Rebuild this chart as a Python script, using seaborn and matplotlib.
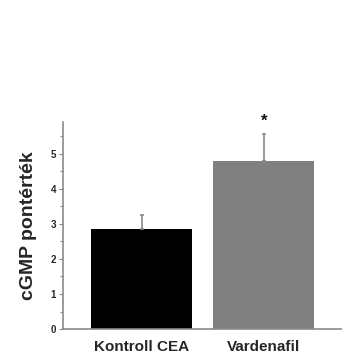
import numpy as np
import pandas as pd
import matplotlib
matplotlib.use("Agg")
import matplotlib.pyplot as plt
from matplotlib.ticker import MultipleLocator
import seaborn as sns

groups = ["Kontroll CEA", "Vardenafil"]
values = [2.84, 4.78]
errors = [0.42, 0.78]
bar_colors = ["#000000", "#808080"]
sig_marks = ["", "*"]

sns.set_theme(style="white")
plt.rcParams['font.family'] = ['Liberation Sans', 'DejaVu Sans']

df = pd.DataFrame({"group": groups, "value": values})

fig = plt.figure(figsize=(3.42, 3.55), dpi=100)
ax = fig.add_axes([0.184, 0.073, 0.816, 0.583])

sns.barplot(data=df, x="group", y="value", hue="group", palette=bar_colors,
            width=0.83, legend=False, ax=ax, saturation=1, edgecolor="none")

# upper error bars only
for i, (v, e) in enumerate(zip(values, errors)):
    ax.errorbar(i, v, yerr=[[0], [e]], fmt="none", ecolor="#8a8a8a",
                elinewidth=1.2, capsize=1.5, capthick=1.2)
    if sig_marks[i]:
        ax.text(i, v + e + 0.15, sig_marks[i], ha="center", va="bottom",
                fontsize=12, fontweight="bold", color="#111111")

ax.set_xlim(-0.643, 1.64)
ax.set_ylim(0, 5.9)
ax.yaxis.set_major_locator(MultipleLocator(1))
ax.yaxis.set_minor_locator(MultipleLocator(0.5))
ax.tick_params(axis="y", which="major", left=True, length=3, width=0.8,
               color="#888888", labelsize=7, pad=2)
ax.tick_params(axis="y", which="minor", left=True, length=2, width=0.8,
               color="#888888")
ax.tick_params(axis="x", bottom=False, labelsize=11, pad=2)
for lab in ax.get_yticklabels():
    lab.set_fontweight("bold")
for lab in ax.get_xticklabels():
    lab.set_fontweight("bold")

for s in ["top", "right"]:
    ax.spines[s].set_visible(False)
for s in ["left", "bottom"]:
    ax.spines[s].set_color("#8a8a8a")
    ax.spines[s].set_linewidth(1.2)

ax.set_xlabel("")
ax.set_ylabel("cGMP pontérték", fontsize=14, fontweight="bold", labelpad=10)

fig.savefig("out.png", dpi=100)
